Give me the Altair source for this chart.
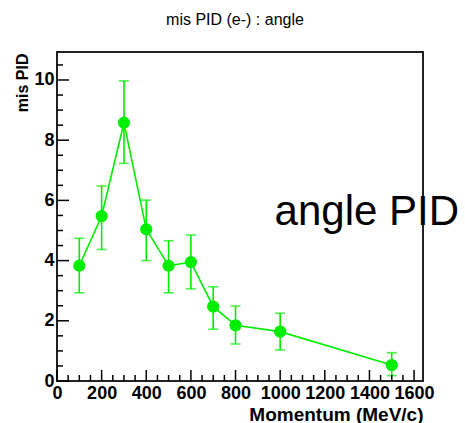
import altair as alt
import pandas as pd

# Data
momentum = [100, 200, 300, 400, 500, 600, 700, 800, 1000, 1500]
mis_pid = [3.83, 5.48, 8.58, 5.04, 3.83, 3.95, 2.47, 1.85, 1.64, 0.53]
err_lo = [2.93, 4.37, 7.23, 4.00, 2.93, 3.06, 1.72, 1.23, 1.03, 0.18]
err_hi = [4.74, 6.48, 9.97, 6.01, 4.66, 4.85, 3.13, 2.49, 2.25, 0.94]

x_major = [0, 200, 400, 600, 800, 1000, 1200, 1400, 1600]
x_minor = [50, 100, 150, 250, 300, 350, 450, 500, 550, 650, 700, 750, 850, 900, 950,
           1050, 1100, 1150, 1250, 1300, 1350, 1450, 1500, 1550]
y_major = [0, 2, 4, 6, 8, 10]
y_minor = [0.5, 1, 1.5, 2.5, 3, 3.5, 4.5, 5, 5.5, 6.5, 7, 7.5, 8.5, 9, 9.5, 10.5]

annot_x = [975]
annot_y = [5.18]
annot_text = ["angle PID"]

W, H = 366, 329
GREEN = "#00ee00"
FONT = "Liberation Sans"

df = pd.DataFrame({"x": momentum, "y": mis_pid, "lo": err_lo, "hi": err_hi})

xs = alt.Scale(domain=[0, 1640], nice=False, zero=False)
ys = alt.Scale(domain=[0, 10.93], nice=False, zero=False)

x_axis = alt.Axis(
    values=x_major, format="d", ticks=False, domain=False, grid=False,
    labelFont=FONT, labelFontWeight="bold", labelFontSize=18, labelColor="black",
    labelPadding=3, labelOverlap=False, labelFlush=False,
    title="Momentum (MeV/c)", titleFont=FONT, titleFontWeight="bold", titleFontSize=19,
    titleColor="black", titleAnchor="end", titleAlign="right", titleX=W, titleY=39,
    titleBaseline="alphabetic",
)
y_axis = alt.Axis(
    values=y_major, format="d", ticks=False, domain=False, grid=False,
    labelFont=FONT, labelFontWeight="bold", labelFontSize=18, labelColor="black",
    labelPadding=3, labelOverlap=False, labelFlush=False,
    title="mis PID", titleFont=FONT, titleFontWeight="bold", titleFontSize=16,
    titleColor="black", titleAngle=270, titleAlign="right", titleX=-30, titleY=1,
    titleBaseline="alphabetic",
)

base = alt.Chart(df)

bars = base.mark_rule(color=GREEN, strokeWidth=1.6).encode(
    x=alt.X("x:Q", scale=xs, axis=x_axis),
    y=alt.Y("lo:Q", scale=ys, axis=y_axis),
    y2="hi:Q",
)
cap_lo = base.mark_tick(color=GREEN, orient="horizontal", size=10, thickness=1.6).encode(
    x=alt.X("x:Q", scale=xs), y=alt.Y("lo:Q", scale=ys)
)
cap_hi = base.mark_tick(color=GREEN, orient="horizontal", size=10, thickness=1.6).encode(
    x=alt.X("x:Q", scale=xs), y=alt.Y("hi:Q", scale=ys)
)
line = base.mark_line(color=GREEN, strokeWidth=1.6).encode(
    x=alt.X("x:Q", scale=xs), y=alt.Y("y:Q", scale=ys)
)
pts = base.mark_circle(color=GREEN, size=150, opacity=1).encode(
    x=alt.X("x:Q", scale=xs), y=alt.Y("y:Q", scale=ys)
)

def xticks(vals, length):
    return alt.Chart(pd.DataFrame({"x": vals})).mark_rule(color="black", strokeWidth=1.5).encode(
        x=alt.X("x:Q", scale=xs), y=alt.value(H), y2=alt.value(H - length)
    )

def yticks(vals, length):
    return alt.Chart(pd.DataFrame({"y": vals})).mark_rule(color="black", strokeWidth=1.5).encode(
        y=alt.Y("y:Q", scale=ys), x=alt.value(0), x2=alt.value(length)
    )

annot = alt.Chart(pd.DataFrame({"x": annot_x, "y": annot_y, "t": annot_text})).mark_text(
    font=FONT, fontSize=42, align="left", baseline="alphabetic", color="black", clip=False
).encode(x=alt.X("x:Q", scale=xs), y=alt.Y("y:Q", scale=ys), text="t:N")

chart = alt.layer(
    bars, cap_lo, cap_hi, line, pts,
    xticks(x_major, 11), xticks(x_minor, 6),
    yticks(y_major, 12), yticks(y_minor, 6),
    annot,
).properties(
    width=W, height=H,
    title=alt.TitleParams(
        "mis PID (e-) : angle", font=FONT, fontSize=16, fontWeight="normal",
        color="black", anchor="middle", offset=24, dx=-5,
    ),
    autosize=alt.AutoSizeParams(type="none"),
    padding={"left": 57, "top": 52, "right": 42, "bottom": 42},
).configure_view(stroke="#222222", strokeWidth=2)

chart.save("out.html", embed_options={"renderer": "svg", "actions": False})
